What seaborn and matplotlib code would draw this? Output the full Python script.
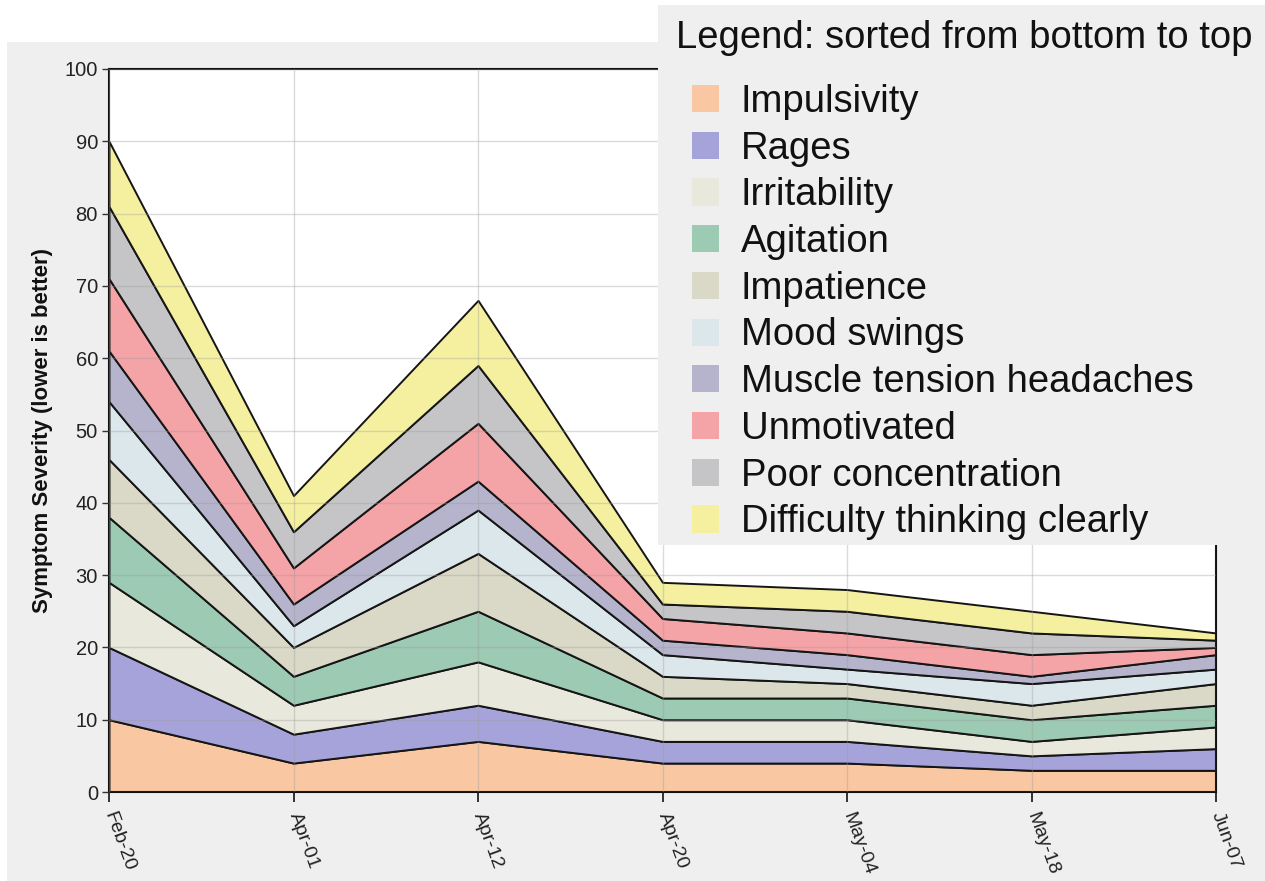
import numpy as np
import matplotlib
matplotlib.use("Agg")
import matplotlib.pyplot as plt
from matplotlib.patches import Patch, Rectangle
import seaborn as sns

# visit dates
dates = ["Feb-20", "Apr-01", "Apr-12", "Apr-20", "May-04", "May-18", "Jun-07"]

# per-symptom severity at each visit, stacked from bottom to top
impulsivity = [10, 4, 7, 4, 4, 3, 3]
rages = [10, 4, 5, 3, 3, 2, 3]
irritability = [9, 4, 6, 3, 3, 2, 3]
agitation = [9, 4, 7, 3, 3, 3, 3]
impatience = [8, 4, 8, 3, 2, 2, 3]
mood_swings = [8, 3, 6, 3, 2, 3, 2]
muscle_tension = [7, 3, 4, 2, 2, 1, 2]
unmotivated = [10, 5, 8, 3, 3, 3, 1]
poor_concentration = [10, 5, 8, 2, 3, 3, 1]
difficulty_thinking = [9, 5, 9, 3, 3, 3, 1]

symptoms = ["Impulsivity", "Rages", "Irritability", "Agitation", "Impatience",
            "Mood swings", "Muscle tension headaches", "Unmotivated",
            "Poor concentration", "Difficulty thinking clearly"]
series = [impulsivity, rages, irritability, agitation, impatience, mood_swings,
          muscle_tension, unmotivated, poor_concentration, difficulty_thinking]
colors = ["#F9C7A2", "#A6A3DB", "#E9E8DC", "#9DCAB3", "#DAD8C6",
          "#DCE7EB", "#B5B4CC", "#F4A3A7", "#C5C5C8", "#F5F0A0"]

sns.set_style("white")
plt.rcParams['font.family'] = ['Liberation Sans', 'DejaVu Sans']

fig = plt.figure(figsize=(12.65, 8.81), dpi=100, facecolor="white")

# grey page background behind the chart
fig.patches.append(Rectangle((7 / 1265, 0), 1, (881 - 42) / 881, transform=fig.transFigure,
                             facecolor="#EFEFEF", edgecolor="none", zorder=-1))

ax = fig.add_axes([109 / 1265, 1 - 792 / 881, (1216 - 109) / 1265, (792 - 69) / 881])
ax.set_facecolor("white")

x = np.arange(len(dates))
ax.stackplot(x, *series, colors=colors, edgecolor="#151515", linewidth=1.4, zorder=2)

ax.set_xlim(0, len(dates) - 1)
ax.set_ylim(0, 100)
ax.set_yticks(range(0, 101, 10))
ax.set_xticks(x)
ax.set_xticklabels(dates, rotation=-70, ha="left", va="center", rotation_mode="anchor")

# faint grid showing through the bands
ax.grid(True, color="#9a9a9a", alpha=0.35, linewidth=1, zorder=3)
ax.set_axisbelow(False)

for s in ax.spines.values():
    s.set_visible(True)
    s.set_color("#111111")
    s.set_linewidth(1.5)

ax.tick_params(axis="y", direction="out", length=5, width=1, color="#333333",
               labelsize=14.5, labelcolor="#222222", pad=3, left=True)
ax.tick_params(axis="x", direction="out", length=7, width=1.2, color="#111111",
               labelsize=14, labelcolor="#222222", pad=8, bottom=True)

ax.set_ylabel("Symptom Severity (lower is better)", fontsize=16, fontweight="bold",
              color="#111111", labelpad=8)

# legend panel overlapping the top right of the plot
fig.patches.append(Rectangle((658 / 1265, 1 - 545 / 881), 607 / 1265, 540 / 881,
                             transform=fig.transFigure, facecolor="#EFEFEF",
                             edgecolor="none", zorder=4))
fig.text(676 / 1265, 1 - 38 / 881, "Legend: sorted from bottom to top", fontsize=27.5,
         ha="left", va="center", color="#111111", zorder=6)

handles = [Patch(facecolor=c, edgecolor="none") for c in colors]
leg = fig.legend(handles, symptoms, loc="upper left",
                 bbox_to_anchor=(692 / 1265, 1 - 84 / 881), frameon=False,
                 fontsize=27.5, handlelength=0.72, handleheight=0.72,
                 handletextpad=0.55, labelspacing=0.28, borderpad=0, borderaxespad=0)
leg.set_zorder(6)
for t in leg.get_texts():
    t.set_color("#111111")

fig.savefig("out.png", dpi=100, facecolor=fig.get_facecolor())
